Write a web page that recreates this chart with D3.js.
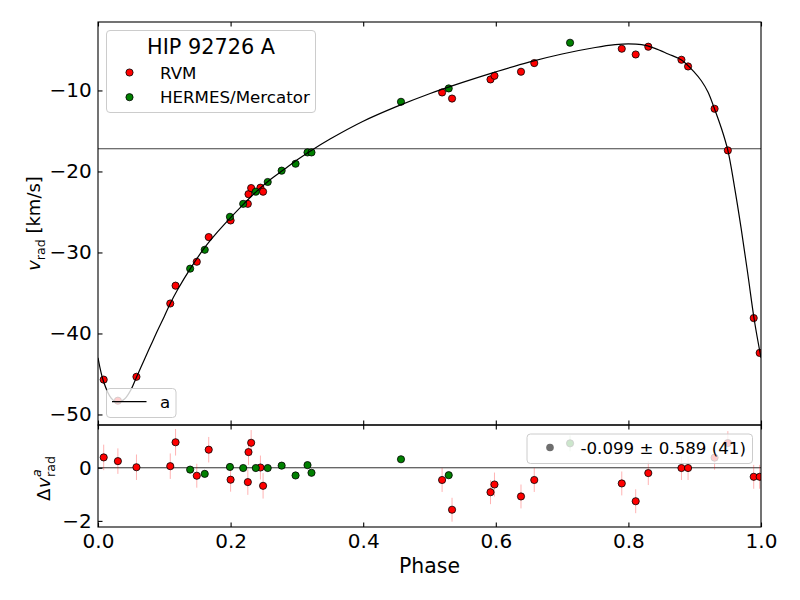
<!DOCTYPE html>
<html>
<head>
<meta charset="utf-8">
<script src="https://cdn.jsdelivr.net/npm/d3@7"></script>
<style>
  body { margin: 0; background: #fff; }
  svg { font-family: "DejaVu Sans", sans-serif; }
</style>
</head>
<body>
<svg id="chart" width="800" height="600"></svg>
<script>
// RVM data (red)
const rvmPhase = [0.0086, 0.030, 0.058, 0.109, 0.117, 0.149, 0.167, 0.200, 0.226, 0.227,
  0.231, 0.245, 0.249, 0.519, 0.534, 0.592, 0.598, 0.638, 0.658, 0.790,
  0.811, 0.830, 0.880, 0.890, 0.930, 0.950, 0.989, 0.998];
const rvmV = [-45.7, -48.3, -45.35, -36.3, -34.1, -31.15, -28.1, -26.05, -24.0, -22.8,
  -22.05, -22.0, -22.5, -10.25, -11.0, -8.64, -8.19, -7.69, -6.62, -4.85,
  -5.56, -4.6, -6.21, -7.04, -12.26, -17.4, -38.1, -42.4];
const rvmRes = [0.39, 0.25, 0.02, 0.06, 0.96, -0.30, 0.68, -0.45, -0.54, 0.59,
  0.94, 0.01, -0.68, -0.46, -1.58, -0.92, -0.63, -1.08, -0.46, -0.59,
  -1.26, -0.20, -0.01, -0.01, 0.38, 0.93, -0.34, -0.34];
const rvmErr = [0.48, 0.48, 0.48, 0.48, 0.5, 0.45, 0.48, 0.45, 0.48, 0.48,
  0.48, 0.45, 0.48, 0.45, 0.45, 0.45, 0.45, 0.45, 0.45, 0.45,
  0.45, 0.45, 0.45, 0.45, 0.45, 0.45, 0.45, 0.45];

// HERMES/Mercator data (green)
const hermesPhase = [0.139, 0.161, 0.199, 0.219, 0.238, 0.256, 0.277, 0.298, 0.316, 0.322,
  0.457, 0.529, 0.712];
const hermesV = [-32.0, -29.67, -25.6, -24.0, -22.5, -21.3, -19.9, -19.05, -17.65, -17.65,
  -11.4, -9.75, -4.11];
const hermesRes = [-0.07, -0.23, 0.03, -0.01, -0.01, -0.01, 0.08, -0.29, 0.10, -0.19,
  0.32, -0.28, 0.92];
const hermesErr = [0.08, 0.08, 0.08, 0.08, 0.08, 0.08, 0.08, 0.08, 0.08, 0.08,
  0.08, 0.08, 0.3];

// orbit model "a"
const modelPhase = [0.0, 0.0086, 0.02, 0.03, 0.04, 0.05, 0.058, 0.07, 0.08, 0.09,
  0.10, 0.109, 0.12, 0.14, 0.16, 0.18, 0.20, 0.22, 0.24, 0.26,
  0.28, 0.30, 0.32, 0.35, 0.40, 0.45, 0.50, 0.55, 0.60, 0.65,
  0.70, 0.75, 0.78, 0.80, 0.82, 0.84, 0.86, 0.88, 0.90, 0.91,
  0.92, 0.93, 0.94, 0.95, 0.96, 0.97, 0.98, 0.99, 1.0];
const modelV = [-43.0, -46.0, -48.0, -48.5, -48.1, -46.9, -45.4, -43.2, -41.4, -39.6,
  -37.9, -36.3, -34.6, -31.9, -29.5, -27.5, -25.7, -24.0, -22.4, -21.0,
  -19.8, -18.6, -17.5, -16.0, -13.8, -12.0, -10.4, -9.0, -7.7, -6.5,
  -5.5, -4.7, -4.35, -4.25, -4.35, -4.8, -5.5, -6.25, -7.8, -8.8,
  -10.2, -12.3, -14.6, -17.4, -21.9, -27.0, -32.6, -38.4, -43.0];

const gamma = -17.2;
const starName = 'HIP 92726 A';
const seriesNames = ['RVM', 'HERMES/Mercator'];
const seriesColors = ['#ff0000', '#008000'];
const statsText = '-0.099 \u00b1 0.589 (41)';
const xTicks = [0.0, 0.2, 0.4, 0.6, 0.8, 1.0];
const yTicks = [-10, -20, -30, -40, -50];
const resTicks = [-2, 0];

const svg = d3.select('#chart');
const left = 98, right = 761;
const mainTop = 22, mainBottom = 425, resBottom = 527;
const fs = 16.67;     // legend text
const tickFs = 20;    // tick labels
const labFs = 18;     // axis labels
const r = 3.6;

const x = d3.scaleLinear().domain([0, 1]).range([left, right]);
const y = d3.scaleLinear().domain([-51.3, -1.55]).range([mainBottom, mainTop]);
const yr = d3.scaleLinear().domain([-2.23, 1.61]).range([resBottom, mainBottom]);

const rvm = rvmPhase.map((p, i) => ({p, v: rvmV[i], res: rvmRes[i], err: rvmErr[i], s: 0}));
const hermes = hermesPhase.map((p, i) => ({p, v: hermesV[i], res: hermesRes[i], err: hermesErr[i], s: 1}));
const all = rvm.concat(hermes);

// clip paths
const defs = svg.append('defs');
defs.append('clipPath').attr('id', 'clipMain').append('rect')
  .attr('x', left).attr('y', mainTop).attr('width', right - left).attr('height', mainBottom - mainTop);
defs.append('clipPath').attr('id', 'clipRes').append('rect')
  .attr('x', left).attr('y', mainBottom).attr('width', right - left).attr('height', resBottom - mainBottom);

// ---- main panel
const main = svg.append('g').attr('clip-path', 'url(#clipMain)');

main.append('line')
  .attr('x1', left).attr('x2', right)
  .attr('y1', y(gamma)).attr('y2', y(gamma))
  .attr('stroke', '#404040').attr('stroke-width', 1.2);

main.append('g').selectAll('line')
  .data(all)
  .join('line')
    .attr('x1', d => x(d.p)).attr('x2', d => x(d.p))
    .attr('y1', d => y(d.v - d.err)).attr('y2', d => y(d.v + d.err))
    .attr('stroke', d => seriesColors[d.s]).attr('stroke-opacity', 0.3);

main.append('g').selectAll('circle')
  .data(all)
  .join('circle')
    .attr('cx', d => x(d.p))
    .attr('cy', d => y(d.v))
    .attr('r', r)
    .attr('fill', d => seriesColors[d.s])
    .attr('stroke', '#000').attr('stroke-width', 0.8);

const line = d3.line()
  .x(d => x(d[0]))
  .y(d => y(d[1]))
  .curve(d3.curveCatmullRom);

main.append('path')
  .datum(modelPhase.map((p, i) => [p, modelV[i]]))
  .attr('d', line)
  .attr('fill', 'none')
  .attr('stroke', '#000').attr('stroke-width', 1.2);

// ---- residual panel
const res = svg.append('g').attr('clip-path', 'url(#clipRes)');

res.append('line')
  .attr('x1', left).attr('x2', right)
  .attr('y1', yr(0)).attr('y2', yr(0))
  .attr('stroke', '#303030').attr('stroke-width', 1);

res.append('g').selectAll('line')
  .data(all)
  .join('line')
    .attr('x1', d => x(d.p)).attr('x2', d => x(d.p))
    .attr('y1', d => yr(d.res - d.err)).attr('y2', d => yr(d.res + d.err))
    .attr('stroke', d => seriesColors[d.s]).attr('stroke-opacity', 0.3);

res.append('g').selectAll('circle')
  .data(all)
  .join('circle')
    .attr('cx', d => x(d.p))
    .attr('cy', d => yr(d.res))
    .attr('r', r)
    .attr('fill', d => seriesColors[d.s])
    .attr('stroke', '#000').attr('stroke-width', 0.8);

// ---- axes (ticks inside)
const tl = 4.5;
const minus = d => d3.format('d')(d).replace('-', '\u2212');
const axes = svg.append('g');
axes.append('g').attr('transform', `translate(0,${mainTop})`)
  .call(d3.axisTop(x).tickValues(xTicks).tickSizeInner(-tl).tickSizeOuter(0).tickFormat(''));
axes.append('g').attr('transform', `translate(0,${mainBottom})`)
  .call(d3.axisBottom(x).tickValues(xTicks).tickSizeInner(-tl).tickSizeOuter(0).tickFormat(''));
axes.append('g').attr('transform', `translate(0,${mainBottom})`)
  .call(d3.axisTop(x).tickValues(xTicks).tickSizeInner(-tl).tickSizeOuter(0).tickFormat(''));
const xb = axes.append('g').attr('transform', `translate(0,${resBottom})`)
  .call(d3.axisBottom(x).tickValues(xTicks).tickSizeInner(-tl).tickSizeOuter(0).tickFormat(d3.format('.1f')));
xb.selectAll('text').attr('dy', null).attr('y', 20.7);

axes.append('g').attr('transform', `translate(${left},0)`)
  .call(d3.axisLeft(y).tickValues(yTicks).tickSizeInner(-tl).tickSizeOuter(0).tickPadding(6.3).tickFormat(minus));
axes.append('g').attr('transform', `translate(${left},0)`)
  .call(d3.axisLeft(yr).tickValues(resTicks).tickSizeInner(-tl).tickSizeOuter(0).tickPadding(6.3).tickFormat(minus));
axes.selectAll('g').attr('font-family', 'DejaVu Sans').attr('font-size', tickFs);
axes.selectAll('.tick text').attr('fill', '#000');
axes.selectAll('.domain').remove();
axes.selectAll('.tick line').attr('stroke', '#000').attr('stroke-width', 1.1);

// frames
[[mainTop, mainBottom], [mainBottom, resBottom]].forEach(([t, b]) => {
  svg.append('rect')
    .attr('x', left).attr('y', t).attr('width', right - left).attr('height', b - t)
    .attr('fill', 'none').attr('stroke', '#000').attr('stroke-width', 1.1);
});

// ---- labels
svg.append('text')
  .attr('x', (left + right) / 2).attr('y', 572.7)
  .attr('text-anchor', 'middle').attr('font-size', 20.4)
  .text('Phase');

const yl = svg.append('text')
  .attr('transform', `translate(40,${(mainTop + mainBottom) / 2}) rotate(-90)`)
  .attr('text-anchor', 'middle').attr('font-size', labFs);
yl.append('tspan').attr('font-style', 'italic').text('v');
yl.append('tspan').attr('font-size', 12.6).attr('dy', 4.5).text('rad');
yl.append('tspan').attr('dy', -4.5).text(' [km/s]');

const rl = svg.append('g')
  .attr('transform', `translate(50,${(mainBottom + resBottom) / 2}) rotate(-90)`);
rl.append('text').attr('x', -25).attr('y', 0).attr('font-size', labFs).text('\u0394');
rl.append('text').attr('x', -12).attr('y', 0).attr('font-size', labFs).attr('font-style', 'italic').text('v');
rl.append('text').attr('x', -1).attr('y', -9).attr('font-size', 12.6).attr('font-style', 'italic').text('a');
rl.append('text').attr('x', -1).attr('y', 5).attr('font-size', 12.6).text('rad');

// ---- legend: series
const lg = svg.append('g');
lg.append('rect')
  .attr('x', 106.5).attr('y', 30.5).attr('width', 209).attr('height', 82)
  .attr('rx', 3.5)
  .attr('fill', '#fff').attr('fill-opacity', 0.8)
  .attr('stroke', '#cccccc').attr('stroke-width', 1);
lg.append('text')
  .attr('x', 211).attr('y', 53.5)
  .attr('text-anchor', 'middle').attr('font-size', 20.8)
  .text(starName);
seriesNames.forEach((name, i) => {
  const cy = 72.5 + i * 24.7;
  lg.append('circle')
    .attr('cx', 129.5).attr('cy', cy).attr('r', r)
    .attr('fill', seriesColors[i]).attr('stroke', '#000').attr('stroke-width', 0.8);
  lg.append('text')
    .attr('x', 160).attr('y', cy).attr('dy', '0.36em')
    .attr('font-size', fs).text(name);
});

// ---- legend: model
const lm = svg.append('g');
lm.append('rect')
  .attr('x', 106.5).attr('y', 388.5).attr('width', 69.5).attr('height', 29)
  .attr('rx', 3.5)
  .attr('fill', '#fff').attr('fill-opacity', 0.8)
  .attr('stroke', '#cccccc').attr('stroke-width', 1);
lm.append('line')
  .attr('x1', 112).attr('x2', 146.5).attr('y1', 401.7).attr('y2', 401.7)
  .attr('stroke', '#000').attr('stroke-width', 1.2);
lm.append('text')
  .attr('x', 160).attr('y', 401.7).attr('dy', '0.36em')
  .attr('font-size', fs).text('a');

// ---- legend: residual stats
const ls = svg.append('g');
ls.append('rect')
  .attr('x', 527).attr('y', 434).attr('width', 225.5).attr('height', 29.5)
  .attr('rx', 3.5)
  .attr('fill', '#fff').attr('fill-opacity', 0.8)
  .attr('stroke', '#cccccc').attr('stroke-width', 1);
ls.append('circle')
  .attr('cx', 550).attr('cy', 447.5).attr('r', 3.8)
  .attr('fill', '#6e6e6e');
ls.append('text')
  .attr('x', 580.5).attr('y', 447.5).attr('dy', '0.36em')
  .attr('font-size', fs).text(statsText);
</script>
</body>
</html>
